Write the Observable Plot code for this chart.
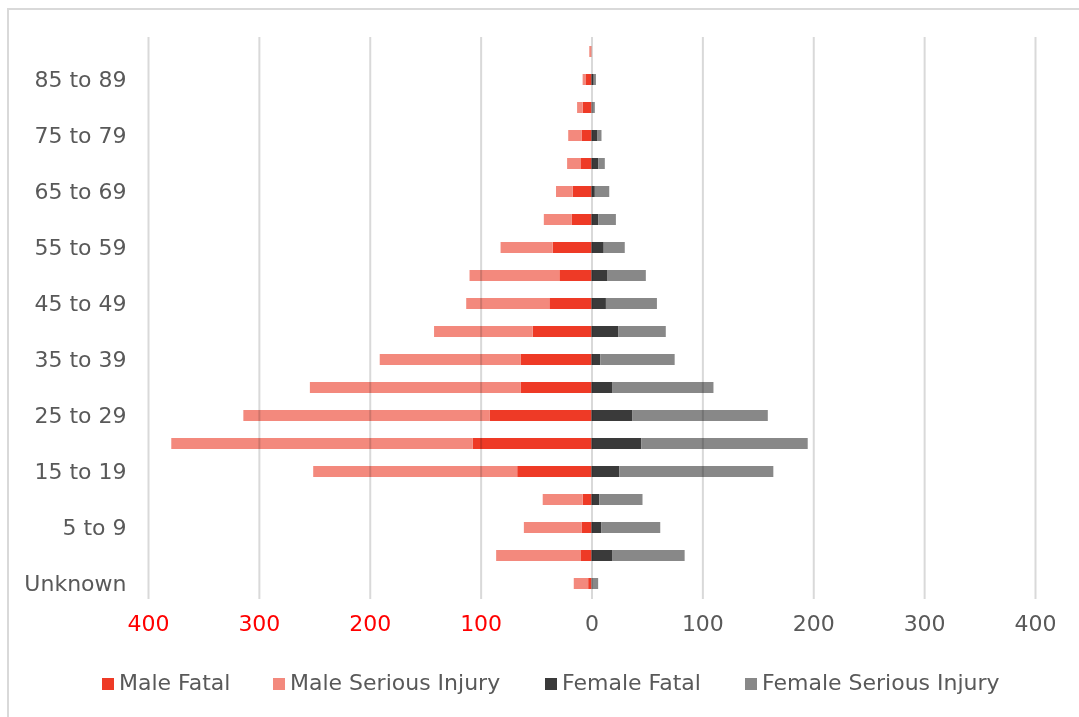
<!DOCTYPE html>
<html>
<head>
<meta charset="utf-8">
<script src="https://cdn.jsdelivr.net/npm/d3@7"></script>
<script src="https://cdn.jsdelivr.net/npm/@observablehq/plot@0.6"></script>
<style>
  html, body { margin: 0; padding: 0; background: #fff; }
  #wrap { position: relative; width: 1079px; height: 717px; overflow: hidden; font-family: "DejaVu Sans", sans-serif; }
  #frame { position: absolute; left: 7px; top: 8px; width: 1200px; height: 800px; border-left: 2px solid #d9d9d9; border-top: 2px solid #d9d9d9; }
  #chart { position: absolute; left: 0; top: 0; }
  .lg { position: absolute; top: 670px; font-size: 22px; color: #595959; white-space: nowrap; line-height: 26px; }
  .sw { display: inline-block; width: 12px; height: 12px; margin-right: 5px; vertical-align: 0px; }
</style>
</head>
<body>
<div id="wrap">
  <div id="frame"></div>
  <div id="chart"></div>
  <div id="legend"></div>
</div>
<script>
// Age groups, top to bottom
const ages = ["90+","85 to 89","80 to 84","75 to 79","70 to 74","65 to 69","60 to 64","55 to 59","50 to 54","45 to 49","40 to 44","35 to 39","30 to 34","25 to 29","20 to 24","15 to 19","10 to 14","5 to 9","0 to 4","Unknown"];
const maleFatal     = [0,5,8,9,10,17,18,35,29,38,53,64,64,92,107,67,8,9,10,3];
const maleSerious   = [2,3,5,12,12,15,25,47,81,75,89,127,190,222,272,184,36,52,76,13];
const femaleFatal   = [0,2,0,5,6,3,6,11,14,13,24,8,19,37,45,25,7,9,19,0];
const femaleSerious = [0,2,3,4,6,13,16,19,35,46,43,67,91,122,150,139,39,53,65,6];

const series = ["Male Fatal","Male Serious Injury","Female Fatal","Female Serious Injury"];
const colors = ["#ee3a26","#f3897d","#3a3a3a","#888888"];
const leftTicks = [-400,-300,-200,-100];
const rightTicks = [0,100,200,300,400];
const yTicks = ages.filter((d, i) => i % 2 === 1);

const data = [];
ages.forEach((age, i) => {
  data.push({age, series: series[0], value: -maleFatal[i]});
  data.push({age, series: series[1], value: -maleSerious[i]});
  data.push({age, series: series[2], value: femaleFatal[i]});
  data.push({age, series: series[3], value: femaleSerious[i]});
});

const chart = Plot.plot({
  width: 1079,
  height: 650,
  marginLeft: 148,
  marginRight: 44,
  marginTop: 37,
  marginBottom: 51,
  style: {fontFamily: "DejaVu Sans, sans-serif", fontSize: "22px", color: "#595959", background: "transparent", overflow: "visible"},
  x: {domain: [-400, 400], axis: null},
  y: {domain: ages, paddingInner: 0.6, paddingOuter: 0.3},
  color: {domain: series, range: colors},
  marks: [
    Plot.barX(data, Plot.stackX({y: "age", x: "value", fill: "series", order: null, inset: 0})),
    Plot.ruleX([...leftTicks, ...rightTicks], {stroke: "#d9d9d9", strokeWidth: 2, mixBlendMode: "multiply"}),
    Plot.text(leftTicks, {x: d => d, text: d => Math.abs(d), frameAnchor: "bottom", dy: 31, fill: "#ff0000", fontSize: 22}),
    Plot.text(rightTicks, {x: d => d, text: d => Math.abs(d), frameAnchor: "bottom", dy: 31, fill: "#595959", fontSize: 22}),
    Plot.axisY(yTicks, {tickSize: 0, tickPadding: 22, color: "#595959", label: null})
  ]
});
document.getElementById("chart").appendChild(chart);

const legendX = [102, 273, 545, 745];
const legend = document.getElementById("legend");
series.forEach((s, i) => {
  const item = document.createElement("div");
  item.className = "lg";
  item.style.left = legendX[i] + "px";
  const sw = document.createElement("span");
  sw.className = "sw";
  sw.style.background = colors[i];
  item.appendChild(sw);
  item.appendChild(document.createTextNode(s));
  legend.appendChild(item);
});
</script>
</body>
</html>
